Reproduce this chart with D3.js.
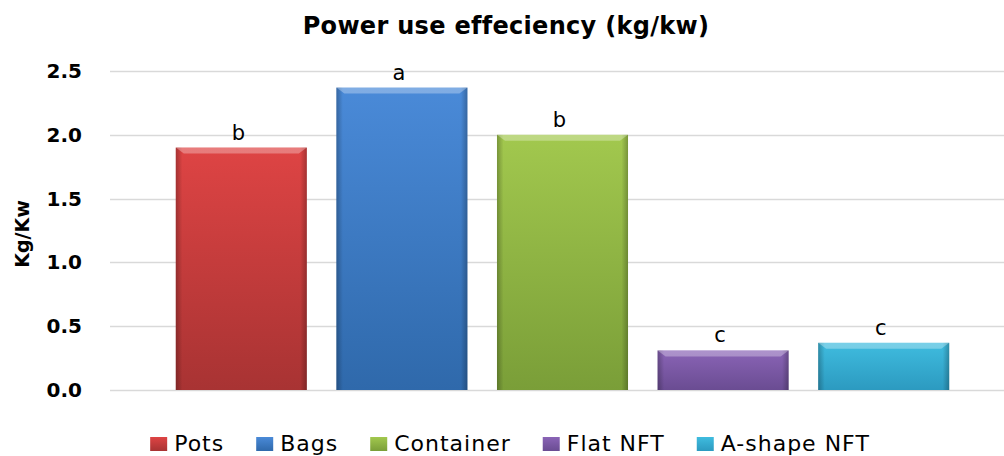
<!DOCTYPE html>
<html>
<head>
<meta charset="utf-8">
<script src="https://cdn.jsdelivr.net/npm/d3@7"></script>
<style>
  body { margin: 0; background: #fff; }
  text { font-family: "DejaVu Sans", sans-serif; fill: #000; }
</style>
</head>
<body>
<div class="container"></div>
<script>
const categories = ["Pots", "Bags", "Container", "Flat NFT", "A-shape NFT"];
const values = [1.90, 2.37, 2.00, 0.31, 0.37];
const letters = ["b", "a", "b", "c", "c"];
const yTicks = [0, 0.5, 1.0, 1.5, 2.0, 2.5];
const topColors = ["#de4444", "#4a8ad8", "#a2c84e", "#8a64b6", "#3fbcdf"];
const bottomColors = ["#a83333", "#2f69ab", "#7a9e38", "#6a4c92", "#2c9ac0"];

const w = 1004, h = 456;
const svg = d3.select(".container").append("svg")
  .attr("width", w).attr("height", h);

const defs = svg.append("defs");
categories.forEach((c, i) => {
  const g = defs.append("linearGradient").attr("id", "grad" + i)
    .attr("x1", 0).attr("y1", 0).attr("x2", 0).attr("y2", 1);
  g.append("stop").attr("offset", "0%").attr("stop-color", topColors[i]);
  g.append("stop").attr("offset", "100%").attr("stop-color", bottomColors[i]);
});
// darker side edges for the bevel look
const side = defs.append("linearGradient").attr("id", "side")
  .attr("x1", 0).attr("y1", 0).attr("x2", 1).attr("y2", 0);
side.append("stop").attr("offset", "0%").attr("stop-color", "#000").attr("stop-opacity", 0.25);
side.append("stop").attr("offset", "5%").attr("stop-color", "#000").attr("stop-opacity", 0);
side.append("stop").attr("offset", "95%").attr("stop-color", "#000").attr("stop-opacity", 0);
side.append("stop").attr("offset", "100%").attr("stop-color", "#000").attr("stop-opacity", 0.25);

const xScale = d3.scaleBand().domain(categories)
  .range([161, 964]).paddingInner(0.184).paddingOuter(0.092);
const yScale = d3.scaleLinear().domain([0, 2.5]).range([390, 71]);

// gridlines
svg.append("g").selectAll("line")
  .data(yTicks).enter().append("line")
  .attr("x1", 110).attr("x2", w)
  .attr("y1", d => Math.round(yScale(d)) + 0.5)
  .attr("y2", d => Math.round(yScale(d)) + 0.5)
  .attr("stroke", "#d9d9d9").attr("stroke-width", 1.5);

// y-axis labels
const yAxis = d3.axisLeft(yScale).tickValues(yTicks).tickFormat(d3.format(".1f")).tickSize(0).tickPadding(0);
const ya = svg.append("g").attr("transform", "translate(82,0)").call(yAxis);
ya.select(".domain").remove();
ya.selectAll("text").style("font-family", "DejaVu Sans").style("font-weight", "bold")
  .style("font-size", "20px").attr("fill", "#1a1a1a");

// bars
const bars = svg.append("g").selectAll("g")
  .data(categories).enter().append("g");
bars.append("rect")
  .attr("x", d => xScale(d))
  .attr("y", (d, i) => yScale(values[i]))
  .attr("width", xScale.bandwidth())
  .attr("height", (d, i) => yScale(0) - yScale(values[i]))
  .attr("fill", (d, i) => "url(#grad" + i + ")");
bars.append("rect")
  .attr("x", d => xScale(d))
  .attr("y", (d, i) => yScale(values[i]))
  .attr("width", xScale.bandwidth())
  .attr("height", (d, i) => yScale(0) - yScale(values[i]))
  .attr("fill", "url(#side)");
// top bevel highlight
bars.append("path")
  .attr("d", (d, i) => {
    const x0 = xScale(d), x1 = x0 + xScale.bandwidth(), y0 = yScale(values[i]);
    return `M${x0},${y0}L${x1},${y0}L${x1 - 8},${y0 + 6}L${x0 + 8},${y0 + 6}Z`;
  })
  .attr("fill", "#fff").attr("fill-opacity", 0.3);

// significance letters
svg.append("g").selectAll("text")
  .data(categories).enter().append("text")
  .attr("x", d => xScale(d) + xScale.bandwidth() / 2 - 3)
  .attr("y", (d, i) => yScale(values[i]) - 8)
  .attr("text-anchor", "middle")
  .style("font-size", "21px")
  .attr("fill", "#222")
  .text((d, i) => letters[i]);

// title
svg.append("text")
  .attr("x", 506).attr("y", 34)
  .attr("text-anchor", "middle")
  .style("font-size", "24px").style("font-weight", "bold")
  .style("letter-spacing", "0.3px")
  .text("Power use effeciency (kg/kw)");

// y title
svg.append("text")
  .attr("transform", "translate(29,234) rotate(-90)")
  .attr("text-anchor", "middle")
  .style("font-size", "19px").style("font-weight", "bold")
  .text("Kg/Kw");

// legend
const legend = svg.append("g");
const items = legend.selectAll("g").data(categories).enter().append("g");
items.append("rect")
  .attr("width", 17).attr("height", 14).attr("y", -14)
  .attr("fill", (d, i) => "url(#grad" + i + ")");
items.append("text")
  .attr("x", 24).attr("y", 0)
  .style("font-size", "22px")
  .style("letter-spacing", "1px")
  .attr("fill", "#333")
  .text(d => d);
let xpos = 0;
items.each(function () {
  const width = 24 + d3.select(this).select("text").node().getComputedTextLength();
  d3.select(this).attr("transform", `translate(${xpos},0)`);
  xpos += width + 32;
});
const total = xpos - 32;
legend.attr("transform", `translate(${510 - total / 2},451)`);
</script>
</body>
</html>
